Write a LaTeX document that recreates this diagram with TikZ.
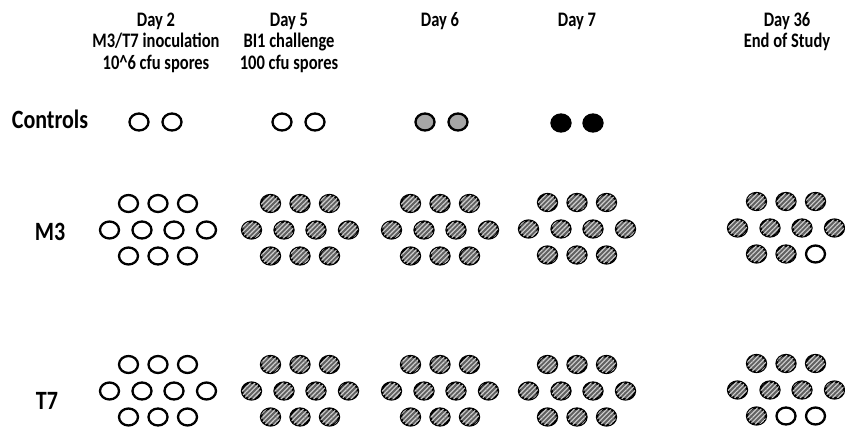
\documentclass[tikz,border=0pt]{standalone}
\usepackage{fontspec}
\usepackage{graphicx}
\setmainfont{Carlito}
\usetikzlibrary{shapes.geometric,patterns.meta}
\newcommand\mycohort[4]{%
  \foreach[count=\i from 0] \st in {#4}{%
    \pgfmathsetmacro\dx{{-29.5,0,29.5,-48.5,-16,16,48.5,-29.5,0,29.5}[\i]}%
    \pgfmathsetmacro\dy{{-26.5,-26.5,-26.5,0,0,0,0,26,26,26}[\i]}%
    \node[\st] (#1-\i) at (#2+\dx,#3+\dy) {};
  }%
}
\newcommand\tallhead[1]{\scalebox{1}[1.25]{#1}}
\newcommand\tallgrp[1]{\scalebox{1}[1.2]{#1}}
\begin{document}
\begin{tikzpicture}[x=1pt,y=-1pt,
  mouse/.style={ellipse,draw=black,line width=2.3pt,minimum width=19pt,minimum height=17pt,inner sep=0pt},
  naive/.style={mouse,fill=white},
  hatch/.style={mouse,fill=black!62,postaction={pattern={Lines[angle=45,distance=3.3pt,line width=1.1pt]},pattern color=black!18}},
  sick/.style={mouse,fill=black!35},
  dead/.style={mouse,fill=black},
  head/.style={font=\bfseries\fontsize{16.5}{20}\selectfont,inner sep=0pt,anchor=base},
  grp/.style={font=\bfseries\fontsize{22}{26}\selectfont,inner sep=0pt,anchor=base}]
\useasboundingbox[fill=white] (0,0) rectangle (845,428);

% headers
\node[head] (h2a) at (156,27) {\tallhead{Day 2}};
\node[head] (h2b) at (156,48) {\tallhead{M3/T7 inoculation}};
\node[head] (h2c) at (156,70) {\tallhead{10\textasciicircum{}6 cfu spores}};
\node[head] (h5a) at (289,27) {\tallhead{Day 5}};
\node[head] (h5b) at (289,48) {\tallhead{BI1 challenge}};
\node[head] (h5c) at (289,70) {\tallhead{100 cfu spores}};
\node[head] (h6a) at (440,27) {\tallhead{Day 6}};
\node[head] (h7a) at (577,27) {\tallhead{Day 7}};
\node[head] (h36a) at (787,27) {\tallhead{Day 36}};
\node[head] (h36b) at (787,48) {\tallhead{End of Study}};

% group labels
\node[grp] (lc) at (50,128) {\tallgrp{Controls}};
\node[grp] (lm3) at (50,240) {\tallgrp{M3}};
\node[grp] (lt7) at (47,409) {\tallgrp{T7}};

% controls
\node[naive] (c2a) at (139,122) {};
\node[naive] (c2b) at (172,122) {};
\node[naive] (c5a) at (282,122) {};
\node[naive] (c5b) at (315,122) {};
\node[sick] (c6a) at (425,122) {};
\node[sick] (c6b) at (458,122) {};
\node[dead] (c7a) at (561,123) {};
\node[dead] (c7b) at (593,123) {};

% M3 cohorts
\mycohort{m3d2}{158}{230}{naive,naive,naive,naive,naive,naive,naive,naive,naive,naive}
\mycohort{m3d5}{300}{230}{hatch,hatch,hatch,hatch,hatch,hatch,hatch,hatch,hatch,hatch}
\mycohort{m3d6}{440}{230}{hatch,hatch,hatch,hatch,hatch,hatch,hatch,hatch,hatch,hatch}
\mycohort{m3d7}{577}{229}{hatch,hatch,hatch,hatch,hatch,hatch,hatch,hatch,hatch,hatch}
\mycohort{m3d36}{786}{228}{hatch,hatch,hatch,hatch,hatch,hatch,hatch,hatch,hatch,naive}

% T7 cohorts
\mycohort{t7d2}{158}{391}{naive,naive,naive,naive,naive,naive,naive,naive,naive,naive}
\mycohort{t7d5}{300}{391}{hatch,hatch,hatch,hatch,hatch,hatch,hatch,hatch,hatch,hatch}
\mycohort{t7d6}{440}{391}{hatch,hatch,hatch,hatch,hatch,hatch,hatch,hatch,hatch,hatch}
\mycohort{t7d7}{577}{391}{hatch,hatch,hatch,hatch,hatch,hatch,hatch,hatch,hatch,hatch}
\mycohort{t7d36}{786}{390}{hatch,hatch,hatch,hatch,hatch,hatch,hatch,hatch,naive,naive}
\end{tikzpicture}
\end{document}
